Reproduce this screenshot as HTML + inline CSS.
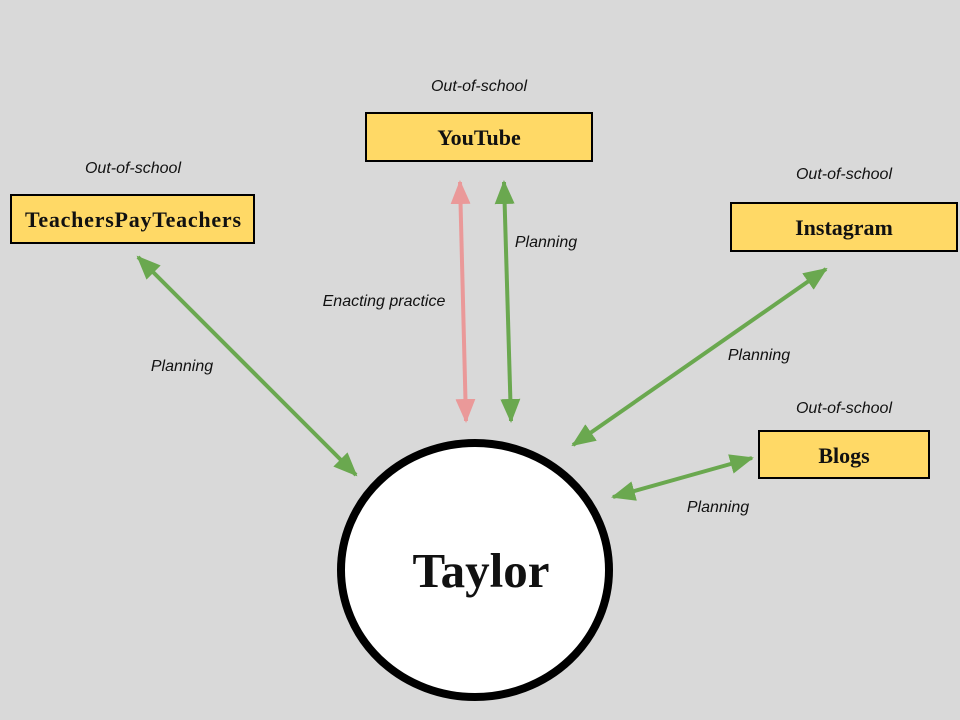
<!DOCTYPE html>
<html><head><meta charset="utf-8"><style>
html,body{margin:0;padding:0;background:#d9d9d9;}
svg{display:block}
.l{font-family:"Liberation Sans",sans-serif;font-style:italic;font-size:16px;fill:#111;}
.b{font-family:"Liberation Serif",serif;font-weight:bold;font-size:22px;fill:#111;}
</style></head><body>
<svg width="960" height="720" viewBox="0 0 960 720">
<defs>
<marker id="g" markerWidth="6" markerHeight="5" refX="5.5" refY="2.5" orient="auto-start-reverse" markerUnits="strokeWidth"><path d="M0,0 L6,2.5 L0,5 z" fill="#6aa84f"/></marker>
<marker id="p" markerWidth="6" markerHeight="5" refX="5.5" refY="2.5" orient="auto-start-reverse" markerUnits="strokeWidth"><path d="M0,0 L6,2.5 L0,5 z" fill="#ea9999"/></marker>
</defs>
<rect width="960" height="720" fill="#d9d9d9"/>
<g stroke-width="4" fill="none">
<line x1="138" y1="257" x2="356" y2="475" stroke="#6aa84f" marker-start="url(#g)" marker-end="url(#g)"/>
<line x1="460" y1="182" x2="466" y2="421" stroke="#ea9999" marker-start="url(#p)" marker-end="url(#p)"/>
<line x1="504" y1="182" x2="511" y2="421" stroke="#6aa84f" marker-start="url(#g)" marker-end="url(#g)"/>
<line x1="826" y1="269" x2="573" y2="445" stroke="#6aa84f" marker-start="url(#g)" marker-end="url(#g)"/>
<line x1="752" y1="458" x2="613" y2="497" stroke="#6aa84f" marker-start="url(#g)" marker-end="url(#g)"/>
</g>
<ellipse cx="475" cy="570" rx="134" ry="127" fill="#fff" stroke="#000" stroke-width="8"/>
<text x="481" y="587" text-anchor="middle" font-family="Liberation Serif,serif" font-weight="bold" font-size="49" fill="#111">Taylor</text>
<g stroke="#000" stroke-width="2" fill="#ffd966">
<rect x="366" y="113" width="226" height="48"/>
<rect x="11" y="195" width="243" height="48"/>
<rect x="731" y="203" width="226" height="48"/>
<rect x="759" y="431" width="170" height="47"/>
</g>
<text class="b" x="479" y="145" text-anchor="middle">YouTube</text>
<text class="b" x="133" y="227" text-anchor="middle" textLength="216">TeachersPayTeachers</text>
<text class="b" x="844" y="235" text-anchor="middle">Instagram</text>
<text class="b" x="844" y="463" text-anchor="middle">Blogs</text>
<text class="l" x="479" y="91" text-anchor="middle">Out-of-school</text>
<text class="l" x="133" y="173" text-anchor="middle">Out-of-school</text>
<text class="l" x="844" y="179" text-anchor="middle">Out-of-school</text>
<text class="l" x="844" y="413" text-anchor="middle">Out-of-school</text>
<text class="l" x="182" y="371" text-anchor="middle">Planning</text>
<text class="l" x="384" y="306" text-anchor="middle">Enacting practice</text>
<text class="l" x="546" y="247" text-anchor="middle">Planning</text>
<text class="l" x="759" y="360" text-anchor="middle">Planning</text>
<text class="l" x="718" y="512" text-anchor="middle">Planning</text>
</svg>
</body></html>
